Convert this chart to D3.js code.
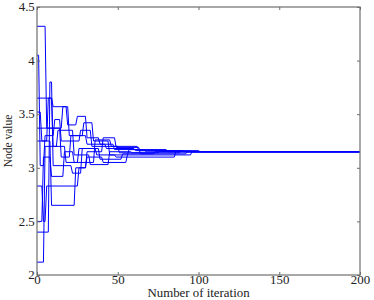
<!DOCTYPE html>
<html><head><meta charset="utf-8">
<script src="https://cdn.jsdelivr.net/npm/d3@7"></script>
<style>body{margin:0;background:#fff}svg{display:block}</style>
</head><body>
<script>
// Data: each node's value as [iteration, new value] breakpoints (step changes)
const node1  = [[0,4.32],[5,3.37],[15,3.57],[19,3.30],[30,3.22],[42,3.18],[60,3.16],[90,3.15],[200,3.15]];
const node2  = [[0,4.05],[1,3.02],[4,3.30],[10,3.45],[14,3.25],[26,3.35],[33,3.20],[50,3.14],[75,3.15],[200,3.15]];
const node3  = [[0,3.65],[9,3.57],[18,3.40],[24,3.48],[30,3.28],[38,3.22],[47,3.17],[66,3.155],[95,3.15],[200,3.15]];
const node4  = [[0,3.37],[14,3.10],[20,3.30],[28,3.42],[34,3.25],[44,3.12],[56,3.17],[80,3.15],[200,3.15]];
const node5  = [[0,3.52],[2,3.25],[6,3.65],[9,3.20],[17,3.05],[25,3.18],[38,3.08],[52,3.13],[72,3.15],[200,3.15]];
const node6  = [[0,2.83],[3,2.50],[5,2.83],[25,3.00],[30,3.10],[40,3.05],[55,3.12],[95,3.15],[200,3.15]];
const node7  = [[0,2.50],[3,3.10],[8,2.92],[16,3.15],[22,3.05],[35,3.26],[45,3.20],[62,3.16],[100,3.15],[200,3.15]];
const node8  = [[0,2.40],[7,3.80],[9,3.02],[21,2.95],[27,3.18],[36,3.12],[48,3.10],[85,3.15],[200,3.15]];
const node9  = [[0,2.12],[4,3.20],[12,3.35],[22,3.12],[32,3.03],[44,3.15],[58,3.14],[88,3.15],[200,3.15]];
const node10 = [[0,3.25],[8,2.65],[23,3.00],[30,3.15],[40,3.28],[48,3.19],[63,3.13],[92,3.15],[200,3.15]];
const nodes = [node1,node2,node3,node4,node5,node6,node7,node8,node9,node10];

const xTicks = [0,50,100,150,200];
const yTicks = [2,2.5,3,3.5,4,4.5];
const xLabel = "Number of iteration";
const yLabel = "Node value";

const W = 374, H = 300;
const m = {left:37, right:14, top:7, bottom:25};
const svg = d3.select("body").append("svg").attr("width",W).attr("height",H);
const x = d3.scaleLinear().domain([0,200]).range([m.left, W-m.right]);
const y = d3.scaleLinear().domain([2,4.5]).range([H-m.bottom, m.top]);

// lines: hold value, then change over one iteration
function toPoints(bp){
  const pts=[[bp[0][0],bp[0][1]]];
  for(let i=1;i<bp.length;i++){
    const prev=bp[i-1][1];
    pts.push([bp[i][0],prev]);
    if(bp[i][1]!==prev) pts.push([Math.min(bp[i][0]+1,200),bp[i][1]]);
  }
  return pts;
}
const line = d3.line().x(d=>x(d[0])).y(d=>y(d[1]));
const g = svg.append("g");
g.selectAll("path").data(nodes).join("path")
  .attr("d",d=>line(toPoints(d)))
  .attr("fill","none").attr("stroke","#0000ff").attr("stroke-width",1);

const font = "'Liberation Serif','Times New Roman',serif";
const axisCol = "#6e6e6e";
const sx = 1.12;
// frame
svg.append("rect").attr("x",m.left).attr("y",m.top)
  .attr("width",W-m.right-m.left).attr("height",H-m.bottom-m.top)
  .attr("fill","none").attr("stroke",axisCol).attr("stroke-width",1.2);

const xa = svg.append("g").attr("transform",`translate(0,${H-m.bottom})`)
  .call(d3.axisBottom(x).tickValues(xTicks).tickSize(-3).tickPadding(1).tickFormat(d3.format("d")));
const xt = svg.append("g").attr("transform",`translate(0,${m.top})`)
  .call(d3.axisTop(x).tickValues(xTicks).tickSize(-3).tickFormat(""));
const ya = svg.append("g").attr("transform",`translate(${m.left},0)`)
  .call(d3.axisLeft(y).tickValues(yTicks).tickSize(-3).tickPadding(2).tickFormat(d=>String(d)));
const yr = svg.append("g").attr("transform",`translate(${W-m.right},0)`)
  .call(d3.axisRight(y).tickValues(yTicks).tickSize(-3).tickFormat(""));
[xa,xt,ya,yr].forEach(a=>{
  a.select(".domain").remove();
  a.selectAll("line").attr("stroke",axisCol);
  a.selectAll("text").attr("font-family",font).attr("font-size",11.5).attr("fill","#222")
    .attr("transform",`scale(${sx},1)`);
});

svg.append("text").attr("transform",`translate(${(m.left+W-m.right)/2},296.5) scale(${sx},1)`)
  .attr("text-anchor","middle").attr("font-family",font).attr("font-size",11.5).attr("fill","#222").text(xLabel);
svg.append("text").attr("transform",`translate(12,141) rotate(-90)`)
  .attr("text-anchor","middle").attr("font-family",font).attr("font-size",11.5).attr("fill","#222").text(yLabel);
</script>
</body></html>
